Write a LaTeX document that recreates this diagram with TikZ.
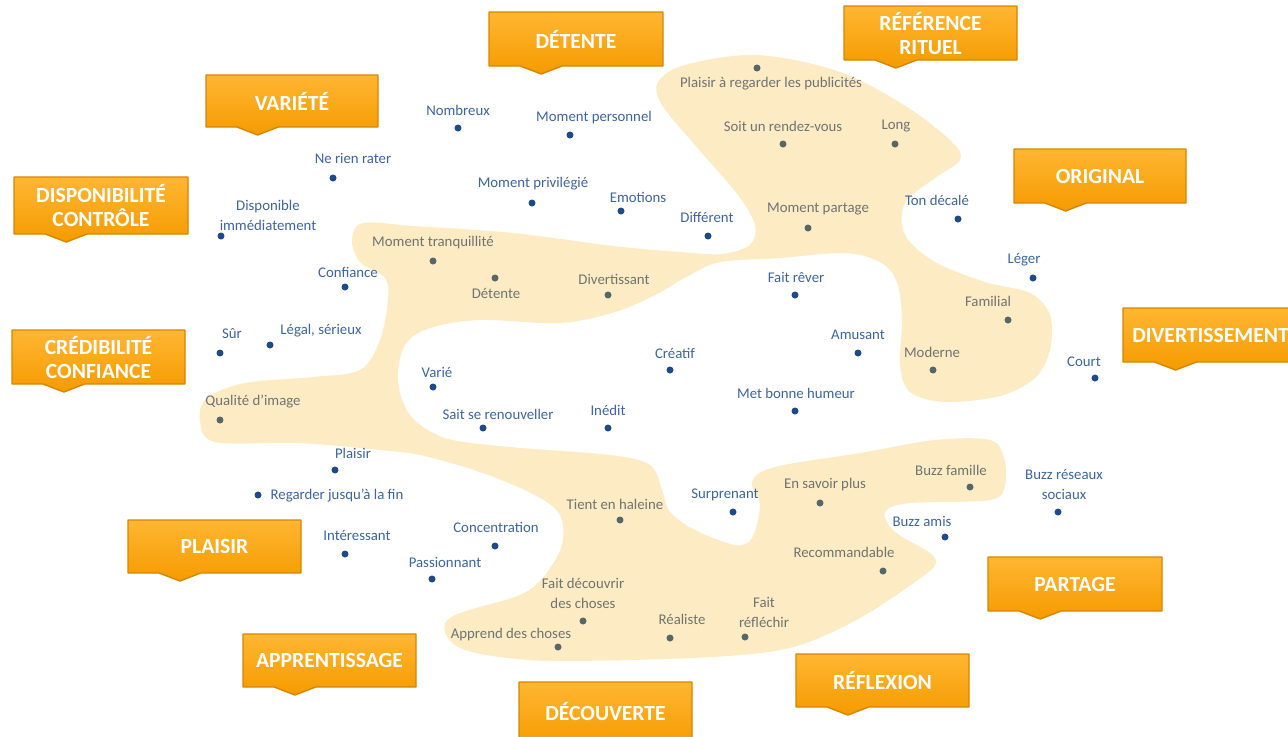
\documentclass[tikz,border=0pt]{standalone}
\usepackage{fontspec}
\setmainfont{Carlito}
\definecolor{cream}{HTML}{FCEBC3}
\definecolor{outtext}{HTML}{3D65A0}
\definecolor{outdot}{HTML}{1F4A8A}
\definecolor{intext}{HTML}{6F7473}
\definecolor{indot}{HTML}{56676A}
\definecolor{boxtop}{HTML}{FFB632}
\definecolor{boxbot}{HTML}{F59B00}
\definecolor{boxedge}{HTML}{D98500}

% white page, greying only towards the far edges
\pgfdeclareradialshading{pagevignette}{\pgfpoint{0bp}{0bp}}{%
  rgb(0bp)=(1,1,1); rgb(36bp)=(1,1,1); rgb(50bp)=(0.95,0.95,0.95); rgb(72bp)=(0.91,0.91,0.91)}

\tikzset{
  lblout/.style={text=outtext, font=\fontsize{7.4}{10}\selectfont, inner sep=0pt, align=center},
  lblin/.style={text=intext, font=\fontsize{7.4}{10}\selectfont, inner sep=0pt, align=center},
  dotout/.style={circle, fill=outdot, inner sep=0pt, minimum size=3.5pt},
  dotin/.style={circle, fill=indot, inner sep=0pt, minimum size=3.5pt},
  boxshape/.style={top color=boxtop, bottom color=boxbot, draw=boxedge, line width=0.7pt, line join=round},
  boxtext/.style={text=white, font=\fontsize{10.8}{12}\selectfont\bfseries, inner sep=0pt, align=center}
}

% orange tag with a small tab under its left third
\newcommand{\tagbox}[6]{%
  \path[boxshape] (#2,#3) -- (#4,#3) -- (#4,#5)
    -- ({#2+0.42*(#4-#2)},#5) -- ({#2+0.30*(#4-#2)},{#5+8})
    -- ({#2+0.18*(#4-#2)},#5) -- (#2,#5) -- cycle;
  \node[boxtext] (#1) at ({(#2+#4)/2},{(#3+#5)/2}) {#6};
}
% a word with its point
\newcommand{\itemout}[6]{%
  \node[dotout] (d-#1) at (#4,#5) {};
  \node[lblout] (t-#1) at (#2,#3) {#6};
}
\newcommand{\itemin}[6]{%
  \node[dotin] (d-#1) at (#4,#5) {};
  \node[lblin] (t-#1) at (#2,#3) {#6};
}

\begin{document}
\begin{tikzpicture}[x=0.5pt, y=-0.5pt]
\useasboundingbox (0,0) rectangle (1288,736);
\shade[shading=pagevignette] (0,0) rectangle (1288,736);

% cluster area
\fill[cream] plot[smooth cycle, tension=0.55] coordinates {
  (363,223) (413,226) (513,233) (613,246) (680,252) (722,254) (750,245) (755,225)
  (738,195) (695,145) (662,105) (658,82) (685,65) (757,55) (840,72) (907,107)
  (952,142) (960,160) (935,178) (905,203) (905,235) (935,262) (985,282) (1030,293)
  (1050,315) (1050,350) (1035,378) (1000,396) (945,402) (910,392) (900,365) (902,320)
  (897,282) (880,262) (845,253) (780,258) (720,262) (688,276) (655,295) (615,312)
  (560,323) (480,320) (430,328) (405,345) (398,380) (410,415) (445,438) (510,447)
  (610,455) (650,465) (662,490) (670,512) (695,530) (735,545) (752,538) (760,505)
  (752,482) (775,467) (860,453) (935,440) (990,440) (1004,458) (1005,485) (990,500)
  (910,503) (885,512) (895,532) (930,553) (935,565) (915,582) (860,618) (800,645)
  (740,655) (630,660) (530,660) (465,650) (445,632) (455,615) (520,595) (545,575)
  (562,545) (560,515) (535,495) (480,472) (420,455) (380,450) (300,443) (215,442)
  (200,420) (207,398) (245,383) (313,377) (360,370) (380,340) (388,300) (385,278)
  (360,262) (352,240)};

% category tags
\tagbox{detente}{489}{12}{663}{66}{DÉTENTE}
\tagbox{rituel}{844}{6}{1017}{60}{RÉFÉRENCE\\RITUEL}
\tagbox{variete}{206}{75}{378}{127}{VARIÉTÉ}
\tagbox{dispo}{14}{177}{188}{234}{DISPONIBILITÉ\\CONTRÔLE}
\tagbox{original}{1014}{149}{1186}{203}{ORIGINAL}
\tagbox{divert}{1123}{308}{1298}{362}{DIVERTISSEMENT}
\tagbox{credib}{12}{330}{185}{384}{CRÉDIBILITÉ\\CONFIANCE}
\tagbox{plaisirtag}{128}{520}{301}{573}{PLAISIR}
\tagbox{partagetag}{988}{557}{1162}{611}{PARTAGE}
\tagbox{apprent}{243}{634}{416}{687}{APPRENTISSAGE}
\tagbox{decouv}{519}{682}{692}{740}{DÉCOUVERTE}
\tagbox{reflex}{796}{654}{969}{707}{RÉFLEXION}

% words outside the cluster
\itemout{nombreux}{458}{110}{458}{128}{Nombreux}
\itemout{personnel}{594}{118}{570}{135}{Moment personnel}
\itemout{rienrater}{353}{158}{333}{178}{Ne rien rater}
\itemout{privilegie}{533}{184}{532}{203}{Moment privilégié}
\itemout{emotions}{638}{197}{621}{211}{Emotions}
\itemout{different}{707}{217}{708}{236}{Différent}
\itemout{disponible}{268}{215}{221}{236}{Disponible\\immédiatement}
\itemout{tondecale}{937}{200}{958}{219}{Ton décalé}
\itemout{confiance}{348}{272}{345}{287}{Confiance}
\itemout{leger}{1024}{260}{1033}{278}{Léger}
\itemout{faitrever}{796}{277}{795}{295}{Fait rêver}
\itemout{sur}{232}{334}{220}{353}{Sûr}
\itemout{legal}{321}{331}{270}{345}{Légal, sérieux}
\itemout{amusant}{858}{335}{858}{353}{Amusant}
\itemout{creatif}{675}{353}{670}{370}{Créatif}
\itemout{court}{1084}{362}{1095}{378}{Court}
\itemout{varie}{437}{372}{433}{387}{Varié}
\itemout{humeur}{796}{393}{795}{411}{Met bonne humeur}
\itemout{renouveller}{498}{414}{483}{428}{Sait se renouveller}
\itemout{inedit}{608}{410}{608}{428}{Inédit}
\itemout{plaisir}{353}{453}{335}{470}{Plaisir}
\itemout{jusqualafin}{337}{496}{258}{495}{Regarder jusqu'à la fin}
\itemout{reseaux}{1064}{484}{1058}{512}{Buzz réseaux\\sociaux}
\itemout{surprenant}{725}{495}{733}{512}{Surprenant}
\itemout{buzzamis}{922}{521}{945}{537}{Buzz amis}
\itemout{concentration}{496}{527}{495}{546}{Concentration}
\itemout{interessant}{357}{535}{345}{554}{Intéressant}
\itemout{passionnant}{445}{562}{432}{579}{Passionnant}

% words inside the cluster
\itemin{publicites}{771}{84}{757}{68}{Plaisir à regarder les publicités}
\itemin{rendezvous}{783}{126}{783}{144}{Soit un rendez-vous}
\itemin{long}{896}{126}{895}{144}{Long}
\itemin{partage}{818}{209}{808}{228}{Moment partage}
\itemin{tranquillite}{433}{243}{433}{261}{Moment tranquillité}
\itemin{detentew}{496}{293}{495}{278}{Détente}
\itemin{divertissant}{614}{279}{608}{295}{Divertissant}
\itemin{familial}{988}{301}{1008}{320}{Familial}
\itemin{moderne}{932}{352}{933}{370}{Moderne}
\itemin{qualite}{253}{402}{220}{420}{Qualité d'image}
\itemin{haleine}{615}{504}{620}{520}{Tient en haleine}
\itemin{ensavoir}{825}{485}{820}{503}{En savoir plus}
\itemin{buzzfamille}{951}{470}{970}{487}{Buzz famille}
\itemin{recommandable}{844}{552}{883}{571}{Recommandable}
\itemin{decouvrir}{583}{593}{583}{621}{Fait découvrir\\des choses}
\itemin{realiste}{682}{619}{670}{638}{Réaliste}
\itemin{reflechir}{764}{612}{745}{637}{Fait\\réfléchir}
\itemin{apprend}{511}{635}{558}{647}{Apprend des choses}
\end{tikzpicture}
\end{document}
